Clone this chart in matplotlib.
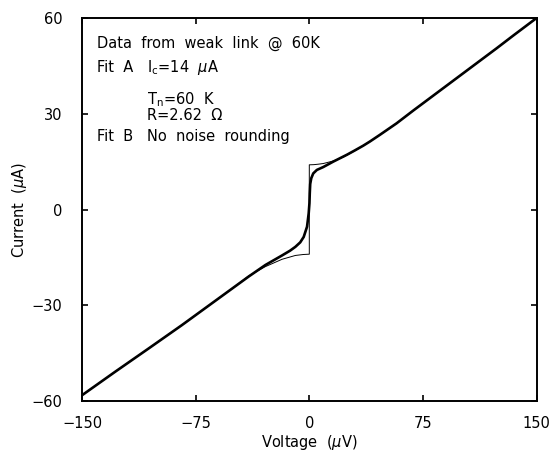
import matplotlib
matplotlib.use("Agg")
import matplotlib.pyplot as plt

plt.rcParams['font.family'] = ['DejaVu Sans']
plt.rcParams['mathtext.fontset'] = 'dejavusans'

# Measured data (thick line): voltage (uV) and current (uA)
data_v = [-150, -128.0, -105.9, -84.0, -62.0, -51.0, -40.0, -29.0, -18.0, -12.7,
          -9.2, -6.0, -3.7, -1.5, -0.4, 0.1, 0.3, 0.6, 1.3, 2.6, 5.0, 9.2, 15.8,
          25.0, 30.0, 35.6, 40.0, 46.6, 57.6, 68.6, 79.6, 90.6, 101.6, 112.6,
          123.6, 134.6, 150]
data_i = [-58.2, -50.8, -43.5, -36.2, -28.6, -24.8, -21.0, -17.4, -14.4, -12.9,
          -11.7, -10.3, -8.6, -5.4, -1.2, 2.0, 5.0, 8.0, 9.8, 11.3, 12.4, 13.3,
          15.0, 17.2, 18.5, 20.0, 21.3, 23.4, 27.0, 31.0, 34.9, 38.8, 42.7, 46.6,
          50.5, 54.5, 60.0]

# Fit B, no noise rounding (thin line)
fit_v = [-150, -128.0, -105.9, -84.0, -62.0, -51.0, -40.0, -29.0, -18.0, -9.2,
         -4.0, 0.0, 0.0, 3.0, 6.0, 9.2, 15.8, 22.4, 30.0, 35.6, 40.0, 46.6,
         57.6, 68.6, 79.6, 90.6, 101.6, 112.6, 123.6, 134.6, 150]
fit_i = [-58.2, -50.8, -43.5, -36.2, -28.6, -24.8, -20.8, -17.9, -15.6, -14.4,
         -14.1, -14.0, 14.0, 14.05, 14.2, 14.4, 15.2, 16.4, 18.4, 20.0, 21.3,
         23.4, 27.0, 31.0, 34.9, 38.8, 42.7, 46.6, 50.5, 54.5, 60.0]

xticks = [-150, -75, 0, 75, 150]
yticks = [-60, -30, 0, 30, 60]

W, H = 552, 451
fig = plt.figure(figsize=(W / 100, H / 100), dpi=100)
ax = fig.add_axes([82 / W, 1 - 401 / H, (536.6 - 82) / W, (401 - 18) / H])

ax.plot(fit_v, fit_i, color='black', lw=0.7, zorder=2)
ax.plot(data_v, data_i, color='black', lw=1.9, zorder=3,
        solid_joinstyle='round', solid_capstyle='round')

ax.set_xlim(-150, 150)
ax.set_ylim(-60, 60)
ax.set_xticks(xticks)
ax.set_yticks(yticks)
ax.set_xticklabels([str(t).replace('-', '\u2212') for t in xticks])
ax.set_yticklabels([str(t).replace('-', '\u2212') for t in yticks])
ax.tick_params(axis='both', direction='in', length=4, width=1.2,
               top=True, right=True, labelsize=10.5)
ax.tick_params(axis='x', pad=11)
ax.tick_params(axis='y', pad=14)
for s in ax.spines.values():
    s.set_linewidth(1.4)

ax.set_xlabel(r'Voltage  ($\mu$V)', fontsize=10.5, va='center')
ax.xaxis.set_label_coords(0.5, (401 - 442) / 383)
ax.set_ylabel(r'Current  ($\mu$A)', fontsize=10.5, labelpad=2)


def px(x, y):
    return x / W, 1 - y / H


fs = 10.5
fig.text(*px(96.7, 47.7), 'Data  from  weak  link  @  60K', fontsize=fs, va='baseline')
fig.text(*px(96.7, 71.7), 'Fit  A', fontsize=fs, va='baseline')
fig.text(*px(146.7, 71.7), r'I$_\mathregular{c}$=14  $\mu$A', fontsize=fs, va='baseline')
fig.text(*px(146.7, 104.3), r'T$_\mathregular{n}$=60  K', fontsize=fs, va='baseline')
fig.text(*px(146.7, 120), 'R=2.62  \u03a9', fontsize=fs, va='baseline')
fig.text(*px(96.7, 141), 'Fit  B', fontsize=fs, va='baseline')
fig.text(*px(146.7, 141), 'No  noise  rounding', fontsize=fs, va='baseline')

fig.savefig('out.png', dpi=100)
